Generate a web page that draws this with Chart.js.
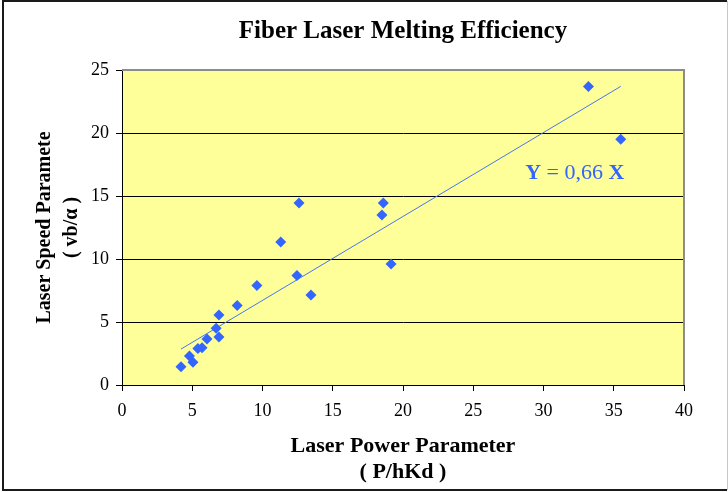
<!DOCTYPE html>
<html>
<head>
<meta charset="utf-8">
<title>Fiber Laser Melting Efficiency</title>
<script src="https://cdn.jsdelivr.net/npm/chart.js@4/dist/chart.umd.min.js"></script>
<style>
  body { margin: 0; background: #fff; }
  #wrap { width: 728px; height: 492px; }
</style>
</head>
<body>
<div id="wrap"><canvas id="chart" width="728" height="492"></canvas></div>
<script>
// Fiber Laser Melting Efficiency
const powerParam = [4.2, 4.8, 5.05, 5.4, 5.7, 6.05, 6.7, 6.9, 6.9, 8.2, 9.6, 11.3, 12.6, 12.45, 13.45, 18.6, 18.5, 19.15, 33.2, 35.5];
const speedParam = [1.45, 2.3, 1.8, 2.9, 2.95, 3.65, 4.5, 3.8, 5.55, 6.3, 7.9, 11.35, 14.45, 8.7, 7.15, 14.45, 13.5, 9.6, 23.7, 19.5];

// linha de tendência (extremos)
const trendX = [4.2, 35.5];
const trendY = [2.85, 23.7];

const xTicks = [0, 5, 10, 15, 20, 25, 30, 35, 40];
const yTicks = [0, 5, 10, 15, 20, 25];

const blue = '#3366FF';
const serif = '"Liberation Serif", "Times New Roman", serif';

// fundo amarelo, moldura e equação
const decorPlugin = {
    id: 'decor',
    beforeDraw(chart) {
        const { ctx, chartArea: a } = chart;
        ctx.save();
        ctx.fillStyle = '#FFFFFF';
        ctx.fillRect(0, 0, chart.width, chart.height);
        ctx.fillStyle = '#FFFF99';
        ctx.fillRect(a.left, a.top, a.right - a.left, a.bottom - a.top);
        ctx.restore();
    },
    afterDraw(chart) {
        const { ctx, chartArea: a, scales } = chart;
        ctx.save();
        // borda cinza do plot (topo e direita)
        ctx.strokeStyle = '#8C8C8C';
        ctx.lineWidth = 2;
        ctx.beginPath();
        ctx.moveTo(a.left, a.top);
        ctx.lineTo(a.right, a.top);
        ctx.lineTo(a.right, a.bottom);
        ctx.stroke();

        // moldura externa
        ctx.strokeStyle = '#1a1a1a';
        ctx.lineWidth = 2;
        ctx.beginPath();
        ctx.moveTo(727, 1);
        ctx.lineTo(3, 1);
        ctx.lineTo(3, 490);
        ctx.lineTo(727, 490);
        ctx.stroke();
        ctx.strokeStyle = '#C8C8C8';
        ctx.lineWidth = 1;
        ctx.beginPath();
        ctx.moveTo(727.5, 1);
        ctx.lineTo(727.5, 490);
        ctx.stroke();

        // equação Y = 0,66 X
        let x = scales.x.getPixelForValue(28.7);
        const y = scales.y.getPixelForValue(16.35);
        ctx.fillStyle = blue;
        ctx.textBaseline = 'alphabetic';
        const parts = [['Y', 'bold'], [' = 0,66 ', 'normal'], ['X', 'bold']];
        parts.forEach(([t, w]) => {
            ctx.font = w + ' 22px ' + serif;
            ctx.fillText(t, x, y);
            x += ctx.measureText(t).width;
        });
        ctx.restore();
    }
};

new Chart(document.getElementById('chart'), {
    type: 'scatter',
    data: {
        datasets: [{
            label: 'Dados',
            data: powerParam.map((v, i) => ({ x: v, y: speedParam[i] })),
            pointStyle: 'rectRot',
            pointRadius: 5.5,
            pointHoverRadius: 5.5,
            backgroundColor: blue,
            borderWidth: 0
        }, {
            type: 'line',
            label: 'Tendência',
            data: trendX.map((v, i) => ({ x: v, y: trendY[i] })),
            borderColor: '#4477EE',
            borderWidth: 1,
            pointRadius: 0,
            fill: false
        }]
    },
    options: {
        responsive: false,
        animation: false,
        layout: { padding: { left: 0, right: 44, top: 0, bottom: 0 } },
        plugins: {
            legend: { display: false },
            tooltip: { enabled: false },
            title: {
                display: true,
                fullSize: false,
                text: 'Fiber Laser Melting Efficiency',
                color: '#000',
                font: { family: serif, size: 25, weight: 'bold', lineHeight: 1.2 },
                padding: { top: 17, bottom: 23 }
            }
        },
        scales: {
            x: {
                type: 'linear',
                min: 0,
                max: 40,
                afterBuildTicks: s => { s.ticks = xTicks.map(v => ({ value: v })); },
                afterFit: s => { s.height = 107; },
                border: { color: '#000', width: 1 },
                grid: { drawOnChartArea: false, drawTicks: true, tickLength: 6, color: '#000' },
                ticks: { color: '#000', padding: 9, maxRotation: 0, font: { family: serif, size: 18 } },
                title: {
                    display: true,
                    text: ['Laser Power Parameter', '( P/hKd )'],
                    color: '#000',
                    font: { family: serif, size: 22, weight: 'bold', lineHeight: 1.2 },
                    padding: { top: 0, bottom: 6 }
                }
            },
            y: {
                type: 'linear',
                min: 0,
                max: 25,
                afterBuildTicks: s => { s.ticks = yTicks.map(v => ({ value: v })); },
                afterFit: s => { s.width = 122; },
                border: { color: '#000', width: 1 },
                grid: {
                    drawTicks: true,
                    tickLength: 6,
                    color: c => (c.tick && c.tick.value === 25) ? 'rgba(0,0,0,0)' : '#000',
                    tickColor: '#000',
                    lineWidth: 1
                },
                ticks: { color: '#000', padding: 7, font: { family: serif, size: 18 } },
                title: {
                    display: true,
                    text: ['Laser Speed Paramete', '( vb/\u03B1 )'],
                    color: '#000',
                    font: { family: serif, size: 20, weight: 'bold', lineHeight: 1.35 },
                    padding: { top: 31.5, bottom: 0 }
                }
            }
        }
    },
    plugins: [decorPlugin]
});
</script>
</body>
</html>
